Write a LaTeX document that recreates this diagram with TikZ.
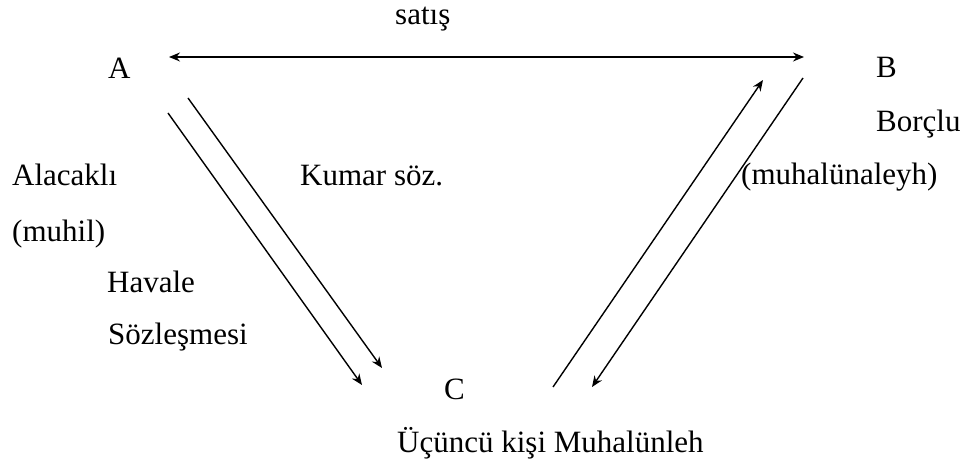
\documentclass[tikz,border=0pt]{standalone}
\usepackage{fontspec}
\setmainfont{Liberation Serif}
\usetikzlibrary{arrows.meta}
\begin{document}
\begin{tikzpicture}[x=1pt,y=-1pt,
  lbl/.style={anchor=base west,inner sep=0pt,font=\fontsize{31}{36}\selectfont},
  conn/.style={line width=1.4pt},
  tip/.style={-{Stealth[length=11pt,width=9pt]}}]
\useasboundingbox (0,0) rectangle (969,465);
% labels
\node[lbl] (sat) at (395,25) {satış};
\node[lbl] (A) at (108,79) {A};
\node[lbl] (B) at (876,78) {B};
\node[lbl] (borc) at (876,132) {Borçlu};
\node[lbl] (alac) at (12,186) {Alacaklı};
\node[lbl] (kumar) at (300,186) {Kumar söz.};
\node[lbl] (muhal) at (741,185) {(muhalünaleyh)};
\node[lbl] (muhil) at (12,241) {(muhil)};
\node[lbl] (hav) at (107,292) {Havale};
\node[lbl] (soz) at (108,344) {Sözleşmesi};
\node[lbl] (C) at (444,399) {C};
\node[lbl] (ucu) at (397,452) {Üçüncü kişi Muhalünleh};
% connector end points
\coordinate (s1) at (169,57);
\coordinate (s2) at (804,57);
\coordinate (l1a) at (168,113);
\coordinate (l1b) at (362,385);
\coordinate (l2a) at (188,98);
\coordinate (l2b) at (382,368);
\coordinate (r1a) at (553,387);
\coordinate (r1b) at (763,80);
\coordinate (r2a) at (803,78);
\coordinate (r2b) at (592,387);
% connectors
\draw[conn,{Stealth[length=11pt,width=9pt]}-{Stealth[length=11pt,width=9pt]}] (s1) -- (s2);
\draw[conn,tip] (l1a) -- (l1b);
\draw[conn,tip] (l2a) -- (l2b);
\draw[conn,tip] (r1a) -- (r1b);
\draw[conn,tip] (r2a) -- (r2b);
\end{tikzpicture}
\end{document}
